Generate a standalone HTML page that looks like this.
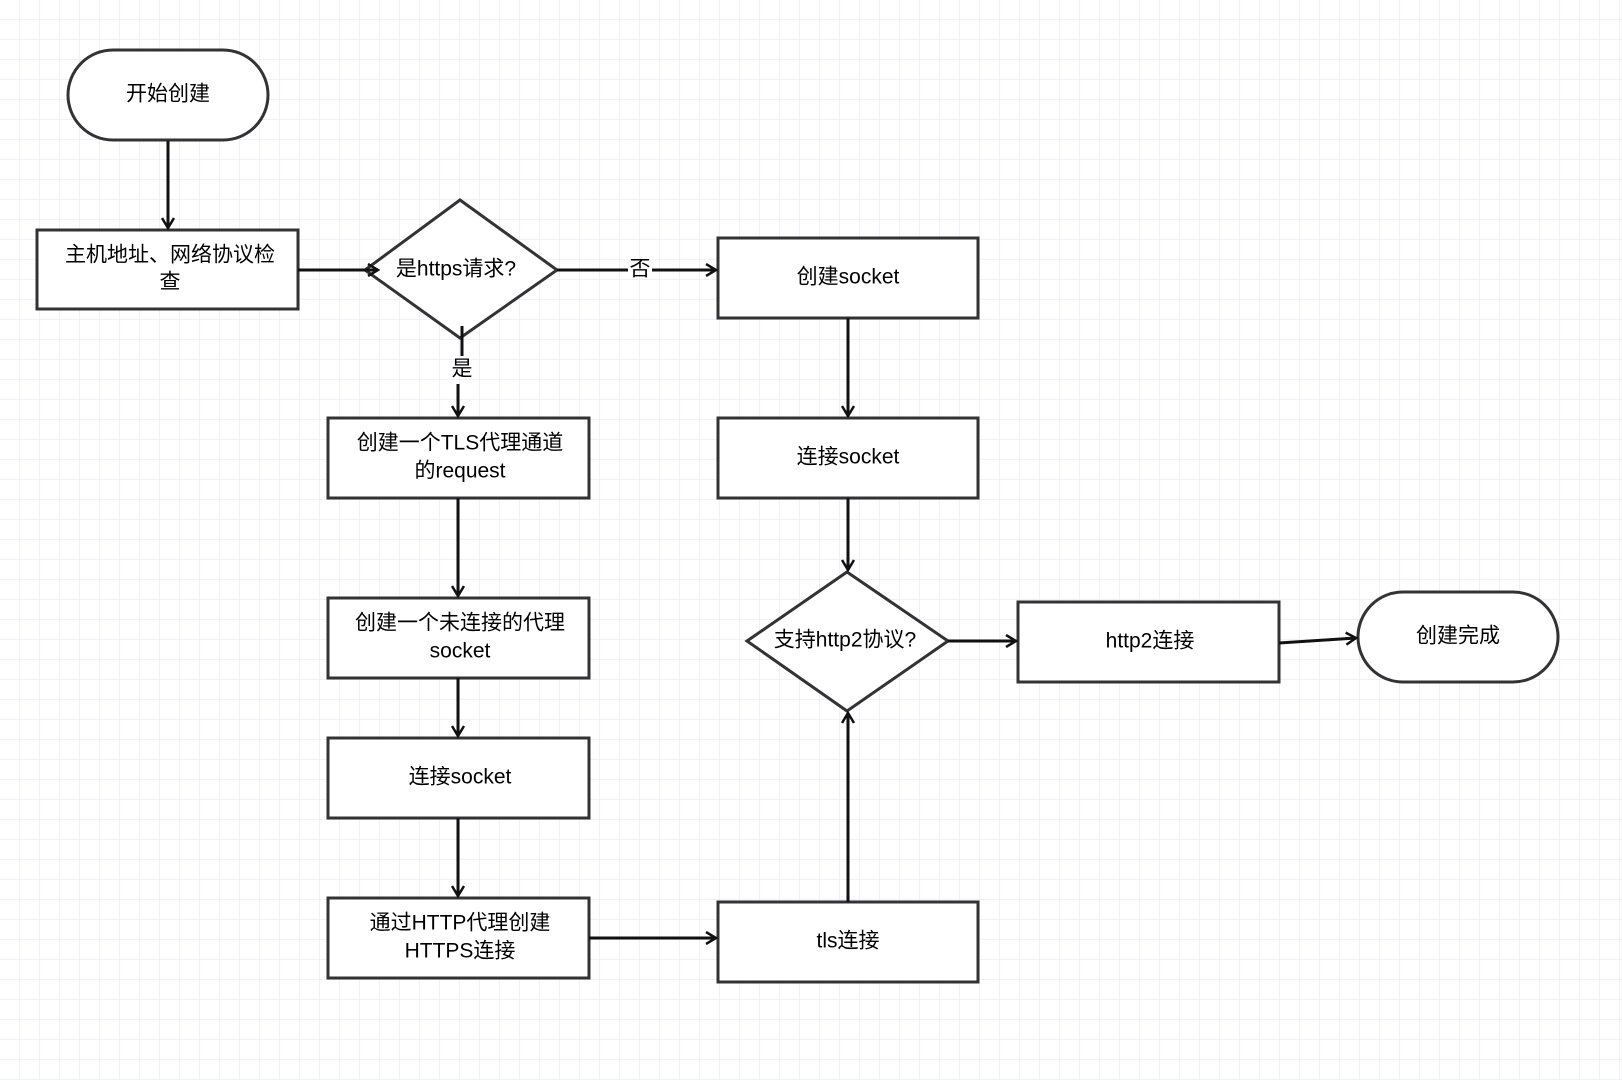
<!DOCTYPE html>
<html><head><meta charset="utf-8"><style>
html,body{margin:0;padding:0;background:#fff}
svg{display:block}
text{font-family:"Liberation Sans","Noto Sans CJK SC",sans-serif;font-size:21px;fill:#000;text-anchor:middle;dominant-baseline:middle}
</style></head><body>
<svg width="1622" height="1080" viewBox="0 0 1622 1080" xmlns="http://www.w3.org/2000/svg">
<defs>
<pattern id="g" width="20" height="20" patternUnits="userSpaceOnUse">
<path d="M20 0V20M0 20H20" stroke="#ebebfa" stroke-width="1.5" fill="none"/>
</pattern>
<marker id="a" markerWidth="14" markerHeight="14" refX="12" refY="7" orient="auto" markerUnits="userSpaceOnUse">
<path d="M2 1 L12 7 L2 13" fill="none" stroke="#111" stroke-width="2.5"/>
</marker>
</defs>
<rect width="1622" height="1080" fill="#fff"/>
<rect width="1622" height="1080" fill="url(#g)"/>
<g fill="#fff" stroke="#333" stroke-width="3">
<rect x="68" y="50" width="200" height="90" rx="45"/>
<rect x="37" y="230" width="261" height="79"/>
<polygon points="460,200 557,270 460,338 365,270"/>
<rect x="718" y="238" width="260" height="80"/>
<rect x="718" y="418" width="260" height="80"/>
<polygon points="847,572 948,641 847,711 747,641"/>
<rect x="1018" y="602" width="261" height="80"/>
<rect x="1358" y="592" width="200" height="90" rx="45"/>
<rect x="328" y="418" width="261" height="80"/>
<rect x="328" y="598" width="261" height="80"/>
<rect x="328" y="738" width="261" height="80"/>
<rect x="328" y="898" width="261" height="80"/>
<rect x="718" y="902" width="260" height="80"/>
</g>
<g stroke="#111" stroke-width="3" fill="none" marker-end="url(#a)">
<path d="M168 141V228"/>
<path d="M298 270H378"/>
<path d="M557 270H628M652 270H716" marker-end="none"/>
<path d="M652 270H716"/>
<path d="M462 326V356" marker-end="none"/>
<path d="M458 384V416"/>
<path d="M458 498V596"/>
<path d="M458 678V736"/>
<path d="M458 818V896"/>
<path d="M589 938H716"/>
<path d="M848 318V416"/>
<path d="M848 498V570"/>
<path d="M848 902V713"/>
<path d="M948 641H1016"/>
<path d="M1279 643L1356 638"/>
</g>
<text x="168" y="95">开始创建</text>
<text x="170" y="256">主机地址、网络协议检</text>
<text x="170" y="283">查</text>
<text x="456" y="270">是https请求?</text>
<text x="640" y="270">否</text>
<text x="462" y="370">是</text>
<text x="848" y="278">创建socket</text>
<text x="848" y="458">连接socket</text>
<text x="845" y="641">支持http2协议?</text>
<text x="1150" y="642">http2连接</text>
<text x="1458" y="637">创建完成</text>
<text x="460" y="444">创建一个TLS代理通道</text>
<text x="460" y="472">的request</text>
<text x="460" y="624">创建一个未连接的代理</text>
<text x="460" y="652">socket</text>
<text x="460" y="778">连接socket</text>
<text x="460" y="924">通过HTTP代理创建</text>
<text x="460" y="952">HTTPS连接</text>
<text x="848" y="942">tls连接</text>
</g>
</svg>
</body></html>
